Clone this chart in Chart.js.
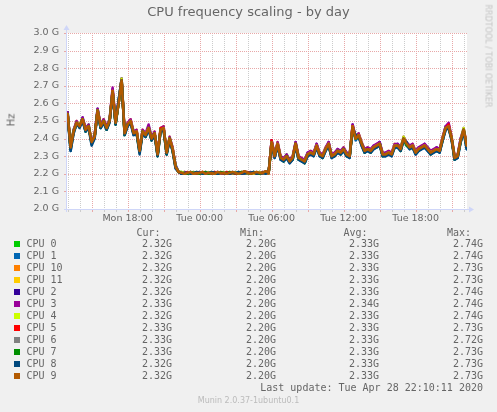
<!DOCTYPE html>
<html>
<head>
<meta charset="utf-8">
<script src="https://cdn.jsdelivr.net/npm/chart.js@4.4.1/dist/chart.umd.min.js"></script>
<style>
    body { margin: 0; background: #f0f0f0; width: 497px; height: 412px; overflow: hidden; position: relative; font-family: "DejaVu Sans", sans-serif; color: #666; }
    #chartBox { position: absolute; left: 0; top: 0; width: 497px; height: 412px; }
    .txt { position: absolute; white-space: pre; }
    .mono { font-family: "DejaVu Sans Mono", monospace; font-size: 10px; line-height: 12px; color: #666; }
    .sq { position: absolute; width: 6px; height: 6px; }
</style>
</head>
<body>
<div id="chartBox"><canvas id="cpuChart" width="497" height="412"></canvas></div>
<div class="txt" style="left:0;width:497px;top:4px;text-align:center;font-size:13px;">CPU frequency scaling - by day</div>
<div class="txt" style="left:11px;top:120px;font-size:10px;transform:translate(-50%,-50%) rotate(-90deg);">Hz</div>
<div class="txt" style="left:488px;top:56px;font-size:8px;color:#c4c4c4;transform:translate(-50%,-50%) rotate(90deg);">RRDTOOL / TOBI OETIKER</div>
<div id="legend"></div>
<div class="txt" style="left:0;width:497px;top:396px;text-align:center;font-size:8px;color:#bbb;">Munin 2.0.37-1ubuntu0.1</div>
<script>
// Time axis: hours since Mon 00:00, one sample every 15 minutes from Mon 13:00
const startHour = 13;
const stepHours = 0.25;
const xMin = 12.95;
const xMax = 46.28;

const xTickHours = [18, 24, 30, 36, 42];
const xTickLabels = ["Mon 18:00", "Tue 00:00", "Tue 06:00", "Tue 12:00", "Tue 18:00"];

const cpuNames = ["CPU 0", "CPU 1", "CPU 10", "CPU 11", "CPU 2", "CPU 3", "CPU 4", "CPU 5", "CPU 6", "CPU 7", "CPU 8", "CPU 9"];
const cpuColors = ["#00CC00", "#0066B3", "#FF8000", "#FFCC00", "#330099", "#990099", "#CCFF00", "#FF0000", "#808080", "#008F00", "#00487D", "#B35A00"];
const curValues = [2.32, 2.32, 2.32, 2.32, 2.32, 2.33, 2.32, 2.33, 2.33, 2.33, 2.32, 2.32];
const minValues = [2.20, 2.20, 2.20, 2.20, 2.20, 2.20, 2.20, 2.20, 2.20, 2.20, 2.20, 2.20];
const avgValues = [2.33, 2.33, 2.33, 2.33, 2.33, 2.34, 2.33, 2.33, 2.33, 2.33, 2.33, 2.33];
const maxValues = [2.74, 2.74, 2.73, 2.73, 2.74, 2.74, 2.74, 2.73, 2.72, 2.73, 2.73, 2.73];
const lastUpdate = "Last update: Tue Apr 28 22:10:11 2020";

// frequency in GHz
const cpu0 = [
    2.55,2.35,2.45,2.49,2.48,2.51,2.45,2.48,2.38,2.41,
    2.56,2.48,2.50,2.46,2.51,2.67,2.49,2.61,2.74,2.43,
    2.48,2.50,2.44,2.44,2.33,2.44,2.42,2.47,2.40,2.43,
    2.31,2.45,2.46,2.32,2.40,2.34,2.24,2.21,
    2.21,2.20,2.205,2.205,2.20,2.21,2.205,2.205,2.20,2.205,2.21,2.20,2.205,2.205,2.205,
    2.205,2.205,2.20,2.205,2.21,2.205,2.20,2.205,2.205,2.21,2.20,2.205,2.205,2.21,2.205,
    2.38,2.31,2.37,2.29,2.28,2.31,2.27,2.29,2.37,2.30,
    2.28,2.27,2.31,2.32,2.32,2.36,2.31,2.30,2.34,2.37,
    2.30,2.31,2.33,2.32,2.34,2.31,2.30,2.47,2.40,2.42,
    2.37,2.34,2.34,2.33,2.35,2.36,2.37,2.31,2.32,2.32,
    2.31,2.36,2.36,2.35,2.40,2.37,2.35,2.36,2.32,2.34,
    2.35,2.36,2.35,2.32,2.33,2.34,2.33,2.40,2.46,2.48,
    2.40,2.29,2.30,2.39,2.45,2.36
];
const cpu1 = [
    2.54,2.33,2.43,2.48,2.47,2.50,2.44,2.47,2.37,2.40,
    2.55,2.46,2.49,2.45,2.50,2.66,2.48,2.62,2.74,2.42,
    2.47,2.49,2.42,2.43,2.32,2.43,2.41,2.45,2.39,2.42,
    2.30,2.44,2.45,2.31,2.39,2.33,2.23,2.21,
    2.20,2.205,2.20,2.205,2.205,2.20,2.21,2.20,2.205,2.205,2.20,2.205,2.205,2.20,2.21,
    2.205,2.20,2.205,2.20,2.205,2.21,2.20,2.205,2.205,2.20,2.205,2.21,2.20,2.205,2.20,
    2.37,2.29,2.36,2.28,2.27,2.29,2.26,2.28,2.36,2.28,
    2.27,2.26,2.30,2.31,2.30,2.35,2.30,2.29,2.33,2.36,
    2.29,2.30,2.32,2.31,2.33,2.30,2.29,2.46,2.39,2.41,
    2.36,2.32,2.33,2.32,2.34,2.35,2.38,2.30,2.30,2.31,
    2.30,2.35,2.35,2.33,2.39,2.36,2.34,2.35,2.31,2.33,
    2.34,2.35,2.33,2.31,2.32,2.33,2.32,2.39,2.45,2.46,
    2.39,2.28,2.29,2.38,2.44,2.34
];
const cpu10 = [
    2.54,2.35,2.44,2.50,2.47,2.51,2.46,2.47,2.38,2.41,
    2.56,2.47,2.51,2.46,2.50,2.67,2.50,2.60,2.73,2.43,
    2.48,2.51,2.43,2.44,2.33,2.45,2.42,2.46,2.41,2.43,
    2.31,2.45,2.47,2.32,2.40,2.35,2.24,2.21,
    2.205,2.21,2.20,2.205,2.205,2.20,2.205,2.21,2.205,2.20,2.205,2.205,2.21,2.20,2.205,
    2.205,2.21,2.205,2.20,2.205,2.205,2.21,2.20,2.205,2.205,2.20,2.21,2.205,2.205,2.20,
    2.38,2.30,2.37,2.30,2.28,2.30,2.28,2.29,2.37,2.29,
    2.29,2.27,2.31,2.32,2.31,2.36,2.32,2.30,2.34,2.37,
    2.31,2.31,2.33,2.33,2.34,2.31,2.30,2.47,2.41,2.42,
    2.37,2.33,2.35,2.33,2.35,2.36,2.37,2.32,2.31,2.32,
    2.32,2.36,2.36,2.34,2.40,2.37,2.35,2.37,2.32,2.34,
    2.35,2.36,2.34,2.33,2.33,2.34,2.33,2.40,2.46,2.47,
    2.40,2.30,2.30,2.39,2.45,2.36
];
const cpu11 = [
    2.54,2.36,2.44,2.49,2.48,2.51,2.45,2.47,2.39,2.41,
    2.56,2.47,2.50,2.47,2.50,2.67,2.49,2.60,2.74,2.43,
    2.49,2.50,2.43,2.45,2.33,2.44,2.43,2.46,2.40,2.44,
    2.31,2.46,2.46,2.32,2.41,2.34,2.24,2.21,
    2.205,2.205,2.21,2.20,2.205,2.205,2.20,2.205,2.21,2.205,2.20,2.205,2.205,2.21,2.20,
    2.21,2.205,2.20,2.205,2.205,2.21,2.205,2.20,2.205,2.205,2.21,2.20,2.205,2.205,2.21,
    2.38,2.30,2.38,2.29,2.29,2.30,2.27,2.30,2.37,2.29,
    2.28,2.28,2.31,2.33,2.31,2.36,2.31,2.31,2.35,2.37,
    2.30,2.32,2.33,2.32,2.35,2.31,2.30,2.47,2.40,2.43,
    2.38,2.33,2.34,2.34,2.35,2.37,2.37,2.31,2.31,2.33,
    2.31,2.37,2.36,2.34,2.41,2.37,2.35,2.36,2.33,2.34,
    2.36,2.36,2.34,2.32,2.34,2.34,2.33,2.41,2.46,2.47,
    2.41,2.29,2.31,2.39,2.45,2.37
];
const cpu2 = [
    2.55,2.35,2.44,2.49,2.47,2.52,2.45,2.47,2.38,2.42,
    2.57,2.47,2.50,2.46,2.50,2.68,2.49,2.60,2.74,2.44,
    2.48,2.50,2.43,2.44,2.34,2.44,2.42,2.46,2.40,2.43,
    2.32,2.45,2.46,2.33,2.40,2.34,2.25,2.21,
    2.20,2.205,2.205,2.21,2.20,2.205,2.21,2.205,2.20,2.205,2.205,2.21,2.20,2.205,2.205,
    2.205,2.20,2.205,2.21,2.205,2.20,2.205,2.205,2.21,2.20,2.205,2.205,2.21,2.20,2.205,
    2.39,2.30,2.37,2.29,2.28,2.30,2.27,2.29,2.38,2.29,
    2.28,2.27,2.32,2.32,2.31,2.37,2.31,2.30,2.34,2.38,
    2.30,2.31,2.34,2.32,2.34,2.32,2.30,2.48,2.40,2.42,
    2.37,2.33,2.34,2.33,2.36,2.36,2.38,2.31,2.31,2.32,
    2.31,2.36,2.37,2.34,2.40,2.37,2.35,2.36,2.32,2.35,
    2.35,2.37,2.34,2.32,2.33,2.35,2.33,2.40,2.47,2.47,
    2.40,2.29,2.30,2.40,2.45,2.36
];
const cpu3 = [
    2.55,2.35,2.45,2.50,2.47,2.52,2.46,2.48,2.38,2.42,
    2.57,2.48,2.51,2.47,2.51,2.69,2.50,2.61,2.74,2.44,
    2.49,2.51,2.44,2.45,2.33,2.45,2.43,2.48,2.41,2.44,
    2.31,2.46,2.47,2.32,2.41,2.35,2.24,2.21,
    2.205,2.21,2.205,2.205,2.21,2.20,2.205,2.205,2.21,2.205,2.20,2.205,2.21,2.205,2.20,
    2.205,2.205,2.21,2.20,2.205,2.205,2.215,2.205,2.20,2.21,2.205,2.205,2.20,2.21,2.205,
    2.39,2.31,2.38,2.30,2.29,2.31,2.28,2.30,2.38,2.30,
    2.29,2.28,2.32,2.33,2.32,2.37,2.32,2.31,2.35,2.38,
    2.31,2.32,2.34,2.33,2.35,2.32,2.31,2.48,2.41,2.43,
    2.38,2.34,2.35,2.34,2.36,2.37,2.38,2.32,2.32,2.33,
    2.32,2.37,2.37,2.35,2.41,2.38,2.36,2.37,2.33,2.35,
    2.36,2.37,2.35,2.33,2.34,2.35,2.34,2.41,2.47,2.49,
    2.41,2.30,2.31,2.40,2.46,2.37
];
const cpu4 = [
    2.54,2.35,2.44,2.49,2.48,2.51,2.45,2.47,2.38,2.41,
    2.56,2.47,2.50,2.46,2.50,2.67,2.49,2.60,2.74,2.43,
    2.48,2.50,2.43,2.44,2.33,2.44,2.42,2.46,2.40,2.43,
    2.31,2.45,2.46,2.32,2.40,2.34,2.24,2.21,
    2.21,2.205,2.20,2.205,2.21,2.205,2.20,2.205,2.205,2.21,2.20,2.205,2.205,2.205,2.21,
    2.20,2.205,2.205,2.21,2.20,2.205,2.21,2.205,2.205,2.20,2.205,2.21,2.205,2.20,2.205,
    2.38,2.30,2.37,2.29,2.28,2.30,2.27,2.29,2.37,2.29,
    2.28,2.27,2.31,2.32,2.31,2.36,2.31,2.30,2.34,2.37,
    2.30,2.31,2.33,2.32,2.34,2.31,2.30,2.47,2.40,2.42,
    2.37,2.33,2.34,2.33,2.35,2.36,2.37,2.31,2.31,2.32,
    2.31,2.36,2.36,2.34,2.41,2.37,2.35,2.36,2.32,2.34,
    2.35,2.36,2.34,2.32,2.33,2.34,2.33,2.40,2.46,2.47,
    2.40,2.29,2.30,2.39,2.46,2.36
];
const cpu5 = [
    2.54,2.35,2.44,2.49,2.47,2.51,2.45,2.47,2.38,2.41,
    2.56,2.47,2.50,2.46,2.50,2.67,2.49,2.60,2.73,2.43,
    2.48,2.50,2.43,2.44,2.33,2.44,2.42,2.46,2.40,2.43,
    2.31,2.46,2.46,2.32,2.40,2.34,2.24,2.21,
    2.205,2.20,2.21,2.205,2.205,2.20,2.205,2.21,2.205,2.205,2.20,2.21,2.205,2.205,2.20,
    2.21,2.205,2.205,2.20,2.21,2.205,2.205,2.21,2.20,2.205,2.205,2.20,2.21,2.205,2.205,
    2.39,2.30,2.37,2.29,2.28,2.30,2.27,2.29,2.37,2.29,
    2.28,2.27,2.31,2.32,2.31,2.36,2.31,2.30,2.34,2.37,
    2.30,2.31,2.33,2.32,2.34,2.31,2.30,2.47,2.40,2.42,
    2.37,2.33,2.34,2.33,2.35,2.36,2.37,2.31,2.31,2.32,
    2.31,2.36,2.36,2.34,2.40,2.37,2.35,2.36,2.32,2.34,
    2.35,2.36,2.34,2.32,2.33,2.34,2.33,2.40,2.46,2.48,
    2.40,2.29,2.30,2.39,2.45,2.37
];
const cpu6 = [
    2.54,2.35,2.44,2.49,2.47,2.50,2.45,2.47,2.38,2.41,
    2.56,2.47,2.50,2.46,2.50,2.66,2.49,2.60,2.72,2.43,
    2.48,2.50,2.43,2.44,2.33,2.44,2.42,2.46,2.40,2.43,
    2.31,2.45,2.46,2.32,2.40,2.34,2.24,2.21,
    2.205,2.20,2.205,2.21,2.20,2.205,2.205,2.21,2.20,2.205,2.205,2.20,2.21,2.205,2.205,
    2.20,2.205,2.21,2.205,2.20,2.205,2.215,2.205,2.20,2.205,2.21,2.205,2.205,2.215,2.205,
    2.38,2.30,2.37,2.29,2.28,2.30,2.27,2.29,2.36,2.29,
    2.28,2.27,2.31,2.32,2.31,2.36,2.31,2.30,2.34,2.37,
    2.30,2.31,2.33,2.32,2.34,2.31,2.30,2.46,2.40,2.42,
    2.37,2.33,2.34,2.33,2.35,2.36,2.37,2.31,2.31,2.32,
    2.31,2.36,2.36,2.34,2.40,2.37,2.35,2.36,2.32,2.34,
    2.35,2.36,2.34,2.32,2.33,2.34,2.33,2.40,2.46,2.47,
    2.40,2.29,2.30,2.39,2.45,2.36
];
const cpu7 = [
    2.54,2.34,2.44,2.48,2.47,2.51,2.44,2.47,2.37,2.41,
    2.56,2.46,2.50,2.45,2.50,2.66,2.48,2.60,2.73,2.42,
    2.48,2.49,2.43,2.43,2.32,2.44,2.41,2.46,2.39,2.43,
    2.30,2.45,2.45,2.31,2.40,2.33,2.24,2.21,
    2.205,2.205,2.20,2.21,2.205,2.205,2.20,2.205,2.21,2.20,2.205,2.205,2.20,2.21,2.205,
    2.20,2.21,2.205,2.205,2.20,2.21,2.205,2.205,2.20,2.21,2.205,2.20,2.205,2.21,2.205,
    2.37,2.30,2.36,2.29,2.27,2.30,2.27,2.28,2.37,2.28,
    2.28,2.26,2.31,2.31,2.31,2.35,2.31,2.29,2.34,2.36,
    2.30,2.30,2.33,2.31,2.34,2.30,2.30,2.46,2.40,2.41,
    2.37,2.32,2.34,2.32,2.35,2.35,2.37,2.30,2.31,2.31,
    2.31,2.35,2.36,2.33,2.40,2.36,2.35,2.35,2.32,2.33,
    2.35,2.35,2.34,2.31,2.33,2.33,2.33,2.39,2.46,2.46,
    2.40,2.28,2.30,2.38,2.45,2.35
];
const cpu8 = [
    2.53,2.33,2.43,2.49,2.46,2.50,2.44,2.46,2.36,2.40,
    2.55,2.46,2.49,2.45,2.49,2.66,2.48,2.62,2.73,2.42,
    2.47,2.49,2.42,2.43,2.31,2.43,2.41,2.45,2.39,2.42,
    2.30,2.44,2.45,2.31,2.39,2.33,2.23,2.21,
    2.20,2.205,2.205,2.20,2.205,2.21,2.205,2.20,2.205,2.205,2.21,2.205,2.20,2.205,2.205,
    2.205,2.20,2.205,2.205,2.21,2.20,2.205,2.205,2.205,2.21,2.20,2.205,2.205,2.20,2.21,
    2.37,2.29,2.36,2.28,2.27,2.29,2.26,2.28,2.36,2.28,
    2.27,2.26,2.30,2.31,2.30,2.35,2.30,2.29,2.33,2.36,
    2.29,2.30,2.32,2.31,2.33,2.30,2.29,2.46,2.42,2.41,
    2.36,2.32,2.33,2.32,2.34,2.35,2.36,2.30,2.30,2.31,
    2.30,2.35,2.35,2.33,2.39,2.38,2.34,2.35,2.31,2.33,
    2.34,2.35,2.33,2.31,2.32,2.33,2.32,2.39,2.45,2.46,
    2.39,2.28,2.29,2.38,2.44,2.34
];
const cpu9 = [
    2.54,2.35,2.44,2.49,2.47,2.51,2.45,2.47,2.38,2.41,
    2.56,2.47,2.50,2.46,2.50,2.67,2.49,2.60,2.73,2.43,
    2.48,2.50,2.43,2.44,2.33,2.44,2.42,2.46,2.40,2.43,
    2.31,2.45,2.46,2.32,2.40,2.34,2.24,2.21,
    2.205,2.20,2.205,2.21,2.20,2.205,2.205,2.21,2.20,2.205,2.205,2.20,2.21,2.205,2.205,
    2.20,2.205,2.21,2.205,2.20,2.205,2.215,2.205,2.20,2.205,2.21,2.205,2.205,2.215,2.205,
    2.38,2.30,2.37,2.29,2.28,2.30,2.27,2.29,2.37,2.29,
    2.28,2.27,2.31,2.32,2.31,2.36,2.31,2.30,2.34,2.37,
    2.30,2.31,2.33,2.32,2.34,2.31,2.30,2.47,2.40,2.42,
    2.37,2.33,2.34,2.33,2.35,2.36,2.37,2.31,2.31,2.32,
    2.31,2.36,2.36,2.34,2.40,2.37,2.35,2.36,2.32,2.34,
    2.35,2.36,2.34,2.32,2.33,2.34,2.33,2.40,2.46,2.47,
    2.40,2.29,2.30,2.39,2.45,2.36
];
const cpuSeries = [cpu0, cpu1, cpu10, cpu11, cpu2, cpu3, cpu4, cpu5, cpu6, cpu7, cpu8, cpu9];

const gridMinor = "#cccccc";
const gridMajor = "#e8a8a8";
const axisColor = "#CFD6F8";

// white canvas, dotted rrdtool grid, and axes with arrows
const rrdFrame = {
    id: "rrdFrame",
    beforeDatasetsDraw(chart) {
        const a = chart.chartArea;
        const ctx = chart.ctx;
        const xs = chart.scales.x;
        const ys = chart.scales.y;
        ctx.save();
        ctx.fillStyle = "#ffffff";
        ctx.fillRect(a.left, a.top, a.right - a.left, a.bottom - a.top);
        // vertical lines: every hour, red every 3 hours
        xs.ticks.forEach((t) => {
            const px = Math.round(xs.getPixelForValue(t.value));
            ctx.fillStyle = t.value % 3 === 0 ? gridMajor : gridMinor;
            for (let py = Math.round(a.top); py < a.bottom; py += 2) ctx.fillRect(px, py, 1, 1);
            ctx.fillRect(px, Math.round(a.bottom) + 1, 1, 2);
        });
        // horizontal lines every 0.1 G
        ctx.fillStyle = gridMajor;
        ys.ticks.forEach((t) => {
            if (t.value <= ys.min) return;
            const py = Math.round(ys.getPixelForValue(t.value));
            for (let px = Math.round(a.left) + 1; px < a.right; px += 2) ctx.fillRect(px, py, 1, 1);
            ctx.fillRect(Math.round(a.left) - 3, py, 2, 1);
        });
        ctx.restore();
    },
    afterDraw(chart) {
        const a = chart.chartArea;
        const ctx = chart.ctx;
        ctx.save();
        ctx.strokeStyle = axisColor;
        ctx.fillStyle = axisColor;
        ctx.lineWidth = 1;
        ctx.beginPath();
        ctx.moveTo(a.left - 0.5, a.bottom + 3);
        ctx.lineTo(a.left - 0.5, a.top - 4);
        ctx.moveTo(a.left - 3, a.bottom + 0.5);
        ctx.lineTo(a.right + 3, a.bottom + 0.5);
        ctx.stroke();
        ctx.beginPath();
        ctx.moveTo(a.left - 3.5, a.top - 3);
        ctx.lineTo(a.left + 2.5, a.top - 3);
        ctx.lineTo(a.left - 0.5, a.top - 8);
        ctx.closePath();
        ctx.fill();
        ctx.beginPath();
        ctx.moveTo(a.right + 2, a.bottom - 2.5);
        ctx.lineTo(a.right + 2, a.bottom + 3.5);
        ctx.lineTo(a.right + 7, a.bottom + 0.5);
        ctx.closePath();
        ctx.fill();
        ctx.restore();
    }
};

Chart.defaults.font.family = "'DejaVu Sans'";
Chart.defaults.font.size = 9.5;
Chart.defaults.color = "#666666";

const ctxCpu = document.getElementById("cpuChart").getContext("2d");

const cpuChart = new Chart(ctxCpu, {
    type: "line",
    data: {
        datasets: cpuSeries.map((values, idx) => ({
            label: cpuNames[idx],
            data: values.map((v, i) => ({ x: startHour + i * stepHours, y: v })),
            borderColor: cpuColors[idx],
            borderWidth: 2.5,
            borderJoinStyle: "round",
            borderCapStyle: "round",
            pointRadius: 0,
            tension: 0,
            fill: false,
            order: cpuSeries.length - 1 - idx,
        }))
    },
    options: {
        responsive: false,
        animation: false,
        layout: { padding: { left: 0, top: 33, right: 30, bottom: 183 } },
        plugins: { legend: { display: false }, title: { display: false }, tooltip: { enabled: false } },
        scales: {
            x: {
                type: "linear",
                min: xMin,
                max: xMax,
                afterBuildTicks: (scale) => {
                    const ticks = [];
                    for (let h = Math.ceil(xMin); h <= Math.floor(xMax); h++) ticks.push({ value: h });
                    scale.ticks = ticks;
                },
                afterFit: (scale) => { scale.height = 20; },
                border: { display: false },
                // grid drawn by the rrdFrame plugin; keep tick spacing only
                grid: { drawOnChartArea: false, color: "rgba(0,0,0,0)", tickLength: 3 },
                ticks: {
                    autoSkip: false,
                    maxRotation: 0,
                    padding: 1,
                    callback: (v) => {
                        const k = xTickHours.indexOf(v);
                        return k >= 0 ? xTickLabels[k] : "";
                    }
                }
            },
            y: {
                min: 2.0,
                max: 3.0,
                afterFit: (scale) => { scale.width = 67; },
                border: { display: false },
                grid: { drawOnChartArea: false, color: "rgba(0,0,0,0)", tickLength: 2 },
                ticks: {
                    stepSize: 0.1,
                    padding: 6,
                    callback: (v) => v.toFixed(1) + " G"
                }
            }
        }
    },
    plugins: [rrdFrame]
});

// legend table below the graph
const legend = document.getElementById("legend");
const addText = (text, x, y, right) => {
    const d = document.createElement("div");
    d.className = "txt mono";
    d.textContent = text;
    d.style.top = (y - 6) + "px";
    if (right) d.style.right = (497 - x) + "px"; else d.style.left = x + "px";
    legend.appendChild(d);
};
const colCur = 172, colMin = 276, colAvg = 379, colMax = 483;
addText("Cur:", 136.5, 233, false);
addText("Min:", 240, 233, false);
addText("Avg:", 343.5, 233, false);
addText("Max:", 447, 233, false);
cpuNames.forEach((name, i) => {
    const y = 244 + i * 12;
    const sq = document.createElement("div");
    sq.className = "sq";
    sq.style.left = "14px";
    sq.style.top = (y - 3) + "px";
    sq.style.background = cpuColors[i];
    legend.appendChild(sq);
    addText(name, 26.5, y, false);
    addText(curValues[i].toFixed(2) + "G", colCur, y, true);
    addText(minValues[i].toFixed(2) + "G", colMin, y, true);
    addText(avgValues[i].toFixed(2) + "G", colAvg, y, true);
    addText(maxValues[i].toFixed(2) + "G", colMax, y, true);
});
addText(lastUpdate, colMax, 388, true);
</script>
</body>
</html>
